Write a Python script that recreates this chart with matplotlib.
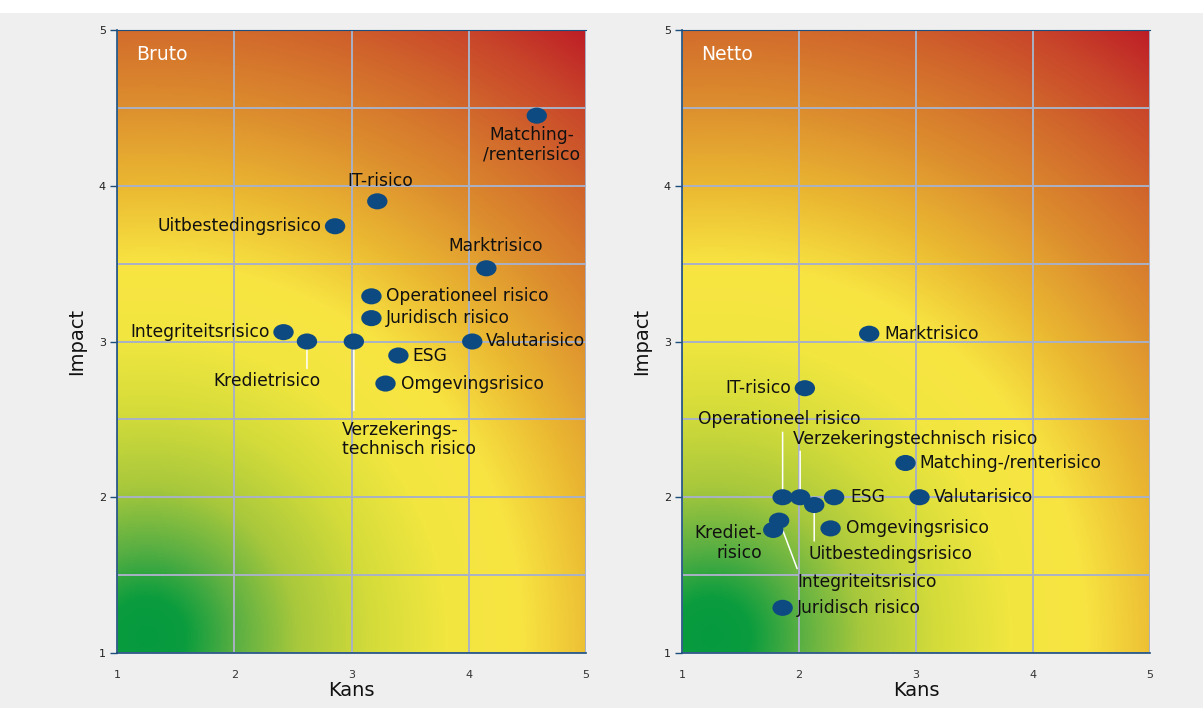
import numpy as np
import matplotlib
matplotlib.use("Agg")
import matplotlib.pyplot as plt
from matplotlib.colors import LinearSegmentedColormap
from matplotlib.patches import Rectangle
from matplotlib.path import Path
from matplotlib.transforms import Affine2D

# Bruto: (kans, impact)
bruto_names = ["Matching-\n/renterisico", "IT-risico", "Uitbestedingsrisico", "Marktrisico",
               "Operationeel risico", "Juridisch risico", "Integriteitsrisico", "Kredietrisico",
               "Verzekerings-\ntechnisch risico", "ESG", "Valutarisico", "Omgevingsrisico"]
bruto_kans = [4.58, 3.22, 2.86, 4.15, 3.17, 3.17, 2.42, 2.62, 3.02, 3.40, 4.03, 3.29]
bruto_impact = [4.45, 3.90, 3.74, 3.47, 3.29, 3.15, 3.06, 3.00, 3.00, 2.91, 3.00, 2.73]

# Netto
netto_names = ["Marktrisico", "IT-risico", "Matching-/renterisico", "Operationeel risico",
               "Verzekeringstechnisch risico", "Uitbestedingsrisico", "ESG", "Valutarisico",
               "Omgevingsrisico", "Krediet-\nrisico", "Integriteitsrisico", "Juridisch risico"]
netto_kans = [2.60, 2.05, 2.91, 1.86, 2.01, 2.13, 2.30, 3.03, 2.27, 1.78, 1.83, 1.86]
netto_impact = [3.05, 2.70, 2.22, 2.00, 2.00, 1.95, 2.00, 2.00, 1.80, 1.79, 1.85, 1.29]

ticks = [1, 2, 3, 4, 5]

# label placement in pixels: (dx, dy, ha, va, leader end or None)
bruto_style = [
    (-5, -10, "center", "top", None),
    (3, 20, "center", "center", None),
    (-14, 0, "right", "center", None),
    (9, 22, "center", "center", None),
    (15, 0, "left", "center", None),
    (14, 0, "left", "center", None),
    (-14, 0, "right", "center", None),
    (-40, -39, "center", "center", (0, -27)),
    (-12, -98, "left", "center", (0, -69)),
    (14, 0, "left", "center", None),
    (14, 0, "left", "center", None),
    (15, 0, "left", "center", None),
]
netto_style = [
    (15, 0, "left", "center", None),
    (-14, 0, "right", "center", None),
    (14, 0, "left", "center", None),
    (-3, 78, "center", "center", (0, 65)),
    (-7, 58, "left", "center", (0, 46)),
    (-6, -49, "left", "center", (0, -36)),
    (16, 0, "left", "center", None),
    (14, 0, "left", "center", None),
    (15, 0, "left", "center", None),
    (-11, -13, "right", "center", None),
    (18, -61, "left", "center", (18, -48)),
    (14, 0, "left", "center", None),
]

heat = LinearSegmentedColormap.from_list("heat", [
    (0.0, "#069a3e"), (0.05, "#0a9c3e"), (0.12, "#5cb043"), (0.2, "#a8c83c"),
    (0.3, "#d4dc3a"), (0.4, "#f2e640"), (0.5, "#f8e442"), (0.6, "#ebba32"),
    (0.72, "#dc8c2e"), (0.82, "#d26a2c"), (0.92, "#c8442a"), (1.0, "#be1e26")])

# slightly wide dots, as in the original
dot = Path(Affine2D().scale(1, 0.79).transform(Path.unit_circle().vertices),
           Path.unit_circle().codes)

plt.rcParams['font.family'] = ['DejaVu Sans']


def draw_panel(ax, title, kans, impact, names, style):
    # background gradient, radial from the low-risk corner (in pixel space)
    gx, gy = np.meshgrid(np.linspace(1, 5, 400), np.linspace(1, 5, 400))
    d = np.hypot((gx - 1.25) * 117, (gy - 1.1) * 156) / 750.0
    ax.imshow(np.clip(d, 0, 1), cmap=heat, vmin=0, vmax=1, extent=(1, 5, 1, 5),
              origin="lower", aspect="auto", interpolation="bilinear", zorder=0)

    ax.set_xlim(1, 5)
    ax.set_ylim(1, 5)
    ax.set_xticks(ticks)
    ax.set_yticks(ticks)
    ax.set_yticks([1.5, 2.5, 3.5, 4.5], minor=True)
    ax.grid(True, which="both", axis="y", color="#a9b1c6", lw=1.4, zorder=1)
    ax.grid(True, which="major", axis="x", color="#a9b1c6", lw=1.4, zorder=1)
    ax.tick_params(axis="x", length=0, pad=12, labelsize=8, labelcolor="#333333")
    ax.tick_params(axis="y", length=5, width=1, color="#1d4f7e", pad=3,
                   labelsize=8, labelcolor="#222222")
    ax.tick_params(axis="y", which="minor", length=0)
    for s in ["left", "bottom", "top"]:
        ax.spines[s].set_color("#1d4f7e")
        ax.spines[s].set_linewidth(1.2)
    ax.spines["top"].set_linewidth(0.8)
    ax.spines["right"].set_visible(False)

    ax.set_xlabel("Kans", fontsize=14, color="#111111")
    ax.xaxis.set_label_coords(0.5, -0.045)
    ax.set_ylabel("Impact", fontsize=14, color="#111111")
    ax.yaxis.set_label_coords(-0.066, 0.5)

    ax.text(0.04, 0.96, title, transform=ax.transAxes, color="white",
            fontsize=13.5, ha="left", va="center")

    for x, y, name, (dx, dy, ha, va, lead) in zip(kans, impact, names, style):
        if lead is not None:
            ax.annotate("", xy=(x, y), xytext=lead, textcoords="offset pixels",
                        arrowprops=dict(arrowstyle="-", color="white", lw=1.1,
                                        shrinkA=0, shrinkB=0), zorder=2)
        ax.annotate(name, xy=(x, y), xytext=(dx, dy), textcoords="offset pixels",
                    ha=ha, va=va, fontsize=12.3, color="#111111",
                    linespacing=1.1, zorder=4)
    ax.scatter(kans, impact, s=215, marker=dot, color="#0d4a82", edgecolors="none",
               zorder=3, clip_on=False)


def main():
    fig = plt.figure(figsize=(12.03, 7.08), dpi=100)
    fig.patch.set_facecolor("#efefef")
    fig.patches.append(Rectangle((0, 1 - 13 / 708), 1, 13 / 708, transform=fig.transFigure,
                                 facecolor="white", edgecolor="none", zorder=0))

    ax1 = fig.add_axes([117 / 1203, 55 / 708, 469 / 1203, 623 / 708])
    ax2 = fig.add_axes([682 / 1203, 55 / 708, 468 / 1203, 623 / 708])

    draw_panel(ax1, "Bruto", bruto_kans, bruto_impact, bruto_names, bruto_style)
    draw_panel(ax2, "Netto", netto_kans, netto_impact, netto_names, netto_style)

    fig.savefig("out.png", dpi=100, facecolor=fig.get_facecolor())


if __name__ == "__main__":
    main()
